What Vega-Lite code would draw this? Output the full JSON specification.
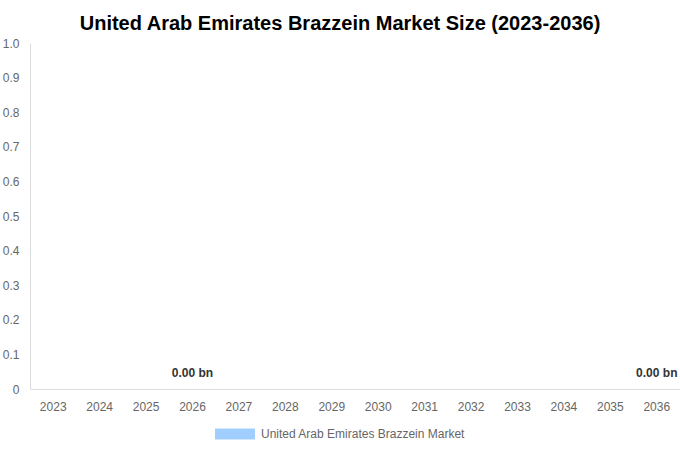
{
  "$schema": "https://vega.github.io/schema/vega-lite/v6.json",
  "autosize": {"type": "none"},
  "width": 650,
  "height": 346,
  "padding": {"left": 30, "top": 43, "right": 0, "bottom": 61},
  "title": {
    "text": "United Arab Emirates Brazzein Market Size (2023-2036)",
    "font": "Liberation Sans",
    "fontSize": 20,
    "fontWeight": "bold",
    "color": "#000000",
    "anchor": "middle",
    "dx": -15,
    "offset": 3
  },
  "data": {
    "values": [
      {"year": "2023", "value": 0, "label": ""},
      {"year": "2024", "value": 0, "label": ""},
      {"year": "2025", "value": 0, "label": ""},
      {"year": "2026", "value": 0, "label": "0.00 bn"},
      {"year": "2027", "value": 0, "label": ""},
      {"year": "2028", "value": 0, "label": ""},
      {"year": "2029", "value": 0, "label": ""},
      {"year": "2030", "value": 0, "label": ""},
      {"year": "2031", "value": 0, "label": ""},
      {"year": "2032", "value": 0, "label": ""},
      {"year": "2033", "value": 0, "label": ""},
      {"year": "2034", "value": 0, "label": ""},
      {"year": "2035", "value": 0, "label": ""},
      {"year": "2036", "value": 0, "label": "0.00 bn"}
    ]
  },
  "encoding": {
    "x": {
      "field": "year",
      "type": "ordinal",
      "title": null,
      "scale": {"paddingInner": 0.2, "paddingOuter": 0.1},
      "axis": {
        "labelAngle": 0,
        "labelFont": "Liberation Sans",
        "labelFontSize": 12,
        "labelColor": "#666666",
        "labelPadding": 12,
        "ticks": false,
        "domainColor": "#dddddd",
        "grid": false
      }
    },
    "y": {
      "field": "value",
      "type": "quantitative",
      "title": null,
      "scale": {"domain": [0, 1]},
      "axis": {
        "values": [0, 0.1, 0.2, 0.3, 0.4, 0.5, 0.6, 0.7, 0.8, 0.9, 1.0],
        "labelExpr": "datum.value == 0 ? '0' : format(datum.value, '.1f')",
        "labelFont": "Liberation Sans",
        "labelFontSize": 12,
        "labelColor": "#666666",
        "labelPadding": 11,
        "ticks": false,
        "domainColor": "#dddddd",
        "grid": false
      }
    }
  },
  "layer": [
    {
      "mark": {"type": "bar"},
      "encoding": {
        "fill": {
          "datum": "United Arab Emirates Brazzein Market",
          "type": "nominal",
          "scale": {"range": ["#a0cfff"]},
          "legend": {
            "title": null,
            "orient": "none",
            "legendX": 185,
            "legendY": 371,
            "symbolType": "M-1,-0.275L1,-0.275L1,0.275L-1,0.275Z",
            "symbolSize": 1600,
            "symbolStrokeWidth": 0,
            "labelFont": "Liberation Sans",
            "labelFontSize": 12,
            "labelColor": "#666666",
            "labelOffset": 6,
            "labelLimit": 400
          }
        }
      }
    },
    {
      "mark": {
        "type": "text",
        "baseline": "bottom",
        "dy": -9,
        "font": "Liberation Sans",
        "fontSize": 12,
        "fontWeight": "bold",
        "color": "#333333"
      },
      "encoding": {
        "text": {"field": "label"}
      }
    }
  ],
  "config": {
    "view": {"stroke": null},
    "background": "#ffffff"
  }
}
